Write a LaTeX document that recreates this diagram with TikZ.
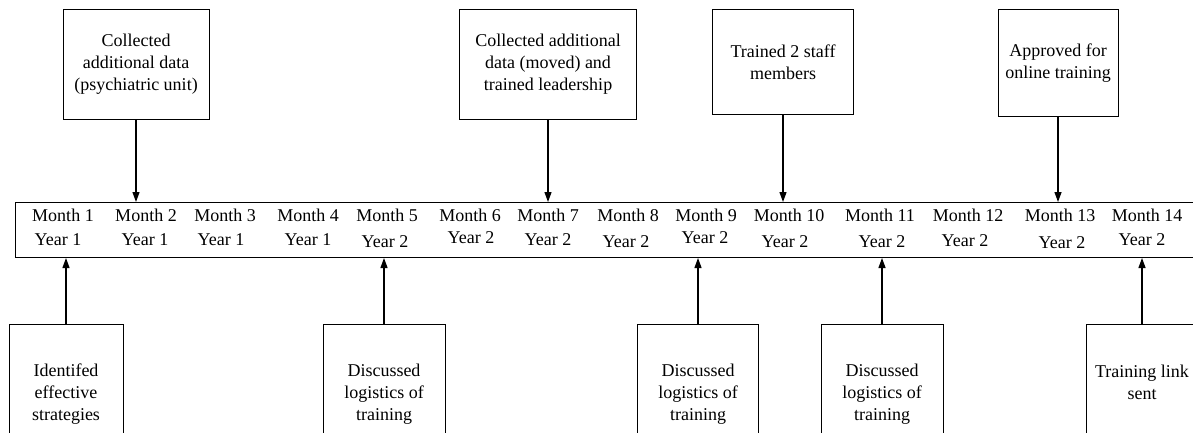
\documentclass[tikz,border=0pt]{standalone}
\usepackage{fontspec}
\setmainfont{Liberation Serif}
\usepackage{tikz}
\usetikzlibrary{arrows.meta,positioning}

\begin{document}
\begin{tikzpicture}[x=1pt, y=-1pt,
    every node/.style={font=\fontsize{18}{22}\selectfont},
    box/.style={draw, rectangle, line width=1pt, align=center, inner sep=2pt},
    arr/.style={-{Triangle[length=10pt,width=7pt]}, line width=1.2pt}]
    \useasboundingbox (0,0) rectangle (1193,433);
    \clip (0,0) rectangle (1193,433);

    % timeline band
    \node[draw, line width=1pt, anchor=north west, inner sep=0pt,
          minimum width=1200pt, minimum height=55pt] (timeline) at (15,202) {};
    \foreach \m/\mx/\yr/\yx/\yy in {1/63/1/58/240, 2/146/1/145/240, 3/225/1/221/240,
        4/308/1/308/240, 5/387/2/385/242, 6/470/2/471/238, 7/548/2/548/240,
        8/628/2/626/242, 9/706/2/705/238, 10/789/2/785/242, 11/880/2/882/242,
        12/968/2/965/241, 13/1060/2/1062/243, 14/1147/2/1142/240}{
        \node (month\m) at (\mx,215) {Month \m};
        \node (year\m) at (\yx,\yy) {Year \yr};
    }

    % events above
    \node[box, anchor=north, minimum width=146pt, minimum height=110pt] (data1) at (136,9)
        {Collected\\additional data\\(psychiatric unit)};
    \node[box, anchor=north, minimum width=177pt, minimum height=110pt] (data2) at (548,9)
        {Collected additional\\data (moved) and\\trained leadership};
    \node[box, anchor=north, minimum width=141pt, minimum height=105pt] (staff) at (783,9)
        {Trained 2 staff\\members};
    \node[box, anchor=north, minimum width=120pt, minimum height=107pt] (online) at (1058,9)
        {Approved for\\online training};

    % events below
    \node[box, anchor=north, minimum width=114pt, minimum height=140pt] (strategies) at (66,324)
        {Identifed\\effective\\strategies};
    \node[box, anchor=north, minimum width=122pt, minimum height=140pt] (logistics1) at (384,324)
        {Discussed\\logistics of\\training};
    \node[box, anchor=north, minimum width=121pt, minimum height=140pt] (logistics2) at (698,324)
        {Discussed\\logistics of\\training};
    \node[box, anchor=north, minimum width=122pt, minimum height=140pt] (logistics3) at (882,324)
        {Discussed\\logistics of\\training};
    \node[box, anchor=north, minimum width=112pt, minimum height=116pt] (link) at (1142,324)
        {Training link\\sent};

    \foreach \ev in {data1, data2, staff, online}
        \draw[arr] (\ev.south) -- (\ev.south |- timeline.north);
    \foreach \ev in {strategies, logistics1, logistics2, logistics3, link}
        \draw[arr] (\ev.north) -- (\ev.north |- timeline.south);
\end{tikzpicture}
\end{document}
